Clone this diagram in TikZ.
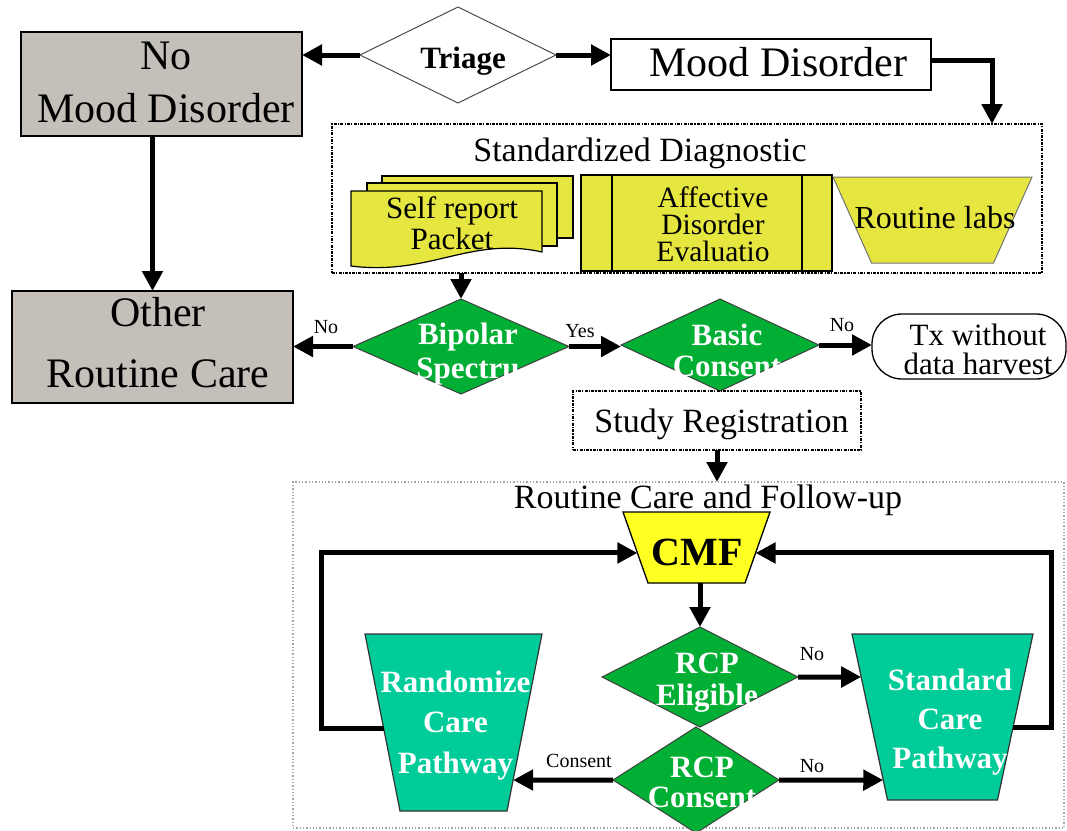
\documentclass[tikz,border=0pt]{standalone}
\usepackage{fontspec}
\setmainfont{Liberation Serif}
\usetikzlibrary{shapes.geometric,arrows.meta,calc}
\definecolor{boxgray}{HTML}{C4C0B9}
\definecolor{diagyellow}{HTML}{E6E640}
\definecolor{cmfyellow}{HTML}{FFFF22}
\definecolor{dgreen}{HTML}{00AF33}
\definecolor{tealc}{HTML}{00CC99}
\newcommand\stk[1]{\vtop{\lineskiplimit=-100pt\lineskip=0pt\halign{\hfil##\hfil\cr#1\crcr}}}
\newcommand\fsz[2]{\fontsize{#1}{#2}\selectfont}
% trapezoid (wide at top) drawn over an invisible rectangle node: #1 style, #2 node, #3 inset
\newcommand\trapdraw[3]{\filldraw[#1] (#2.north west) -- (#2.north east) -- ([xshift=-#3pt]#2.south east) -- ([xshift=#3pt]#2.south west) -- cycle;}
\begin{document}
\begin{tikzpicture}[x=1pt,y=-1pt,
 sz/.style 2 args={minimum width=#1pt,minimum height=#2pt},
 shp/.style={inner sep=0pt,outer sep=0pt,line width=1.3pt,draw=black},
 gbox/.style={shp,rectangle,fill=boxgray},
 wbox/.style={shp,rectangle,fill=white},
 dash box/.style={shp,rectangle,line width=1.6pt,dash pattern=on 3pt off 1.2pt on 1.2pt off 1.2pt},
 gdiam/.style={shp,diamond,fill=dgreen,draw=black!75,line width=1pt},
 frame/.style={rectangle,inner sep=0pt,outer sep=0pt},
 sheet/.style={fill=diagyellow,draw=black,line width=1.2pt},
 arr/.style={line width=5pt,-{Triangle[length=20pt,width=20pt]}},
 lbl/.style={anchor=base,inner sep=0pt,outer sep=0pt},
 wtxt/.style={lbl,text=white,font=\bfseries\fsz{31}{#1}},
 small/.style={lbl,font=\fsz{20}{24}}
]
\useasboundingbox (0,0) rectangle (1067,830);

% ---------- shapes ----------
\node[gbox,sz={281}{104}] (nomood) at (161.5,84) {};
\node[shp,diamond,fill=white,draw=black!70,line width=1pt,sz={196}{96}] (triage) at (458,55) {};
\node[wbox,sz={320}{51}] (mood) at (771,64.5) {};
\node[dash box,sz={710}{149}] (diag) at (687,198.5) {};

% self report packet (multi-document)
\filldraw[sheet] (382,176) rectangle (573,238);
\filldraw[sheet] (367,183) rectangle (557,246);
\filldraw[sheet] (351,191) -- (542,191) -- (542,252) .. controls (470,236) and (430,276) .. (351,266) -- cycle;

\node[shp,rectangle,fill=diagyellow,sz={251}{96}] (aff) at (706.5,223) {};
\draw[line width=1.3pt] ([xshift=31pt]aff.north west) -- ([xshift=31pt]aff.south west);
\draw[line width=1.3pt] ([xshift=-30pt]aff.north east) -- ([xshift=-30pt]aff.south east);
\node[frame,sz={199}{86}] (labs) at (932.5,220) {};
\trapdraw{fill=diagyellow,draw=black!55,line width=1pt}{labs}{38.5}

\node[gbox,sz={281}{112}] (other) at (152.5,347) {};
\node[gdiam,sz={216}{95}] (bip) at (461,346.5) {};
\node[gdiam,sz={198}{92}] (basic) at (720,345) {};
\node[wbox,rounded corners=30pt,sz={194}{65}] (tx) at (969,346.5) {};
\node[dash box,sz={288}{59}] (study) at (717,420.5) {};

\node[shp,rectangle,draw=black!35,dotted,line width=1.3pt,sz={771}{346}] (rc) at (678.5,655) {};
\node[frame,sz={147}{71}] (cmf) at (696.5,547.5) {};
\trapdraw{fill=cmfyellow,draw=black,line width=1.3pt}{cmf}{25}
\node[gdiam,sz={196}{100}] (rcpe) at (700,677) {};
\node[gdiam,sz={166}{106}] (rcpc) at (696,780) {};
\node[frame,sz={177}{177}] (rand) at (453.5,722.5) {};
\trapdraw{fill=tealc,draw=black!80,line width=1.2pt}{rand}{35}
\node[frame,sz={181}{166}] (std) at (942.5,717) {};
\trapdraw{fill=tealc,draw=black!80,line width=1.2pt}{std}{35.5}

% points on the slanted sides
\coordinate (cmfL) at ($(cmf.north west)!0.577!([xshift=25pt]cmf.south west)$);
\coordinate (cmfR) at ($(cmf.north east)!0.577!([xshift=-25pt]cmf.south east)$);
\coordinate (randL) at ($(rand.north west)!0.531!([xshift=35pt]rand.south west)$);
\coordinate (randC) at ($(rand.north east)!0.825!([xshift=-35pt]rand.south east)$);
\coordinate (stdE) at ($(std.north west)!0.259!([xshift=35.5pt]std.south west)$);
\coordinate (stdC) at ($(std.north west)!0.880!([xshift=35.5pt]std.south west)$);
\coordinate (stdR) at ($(std.north east)!0.566!([xshift=-35.5pt]std.south east)$);

% ---------- connectors ----------
\draw[arr] (triage.west) -- (triage.west -| nomood.east);
\draw[arr] (triage.east) -- (triage.east -| mood.west);
\draw[arr] ([yshift=4pt]mood.east) -| ($(diag.north east)+(-50,0)$);
\draw[arr] (other.north |- nomood.south) -- (other.north);
\draw[arr] (bip.north |- diag.south) -- (bip.north);
\draw[arr] (bip.west) -- (bip.west -| other.east);
\draw[arr] (bip.east) -- (bip.east -| basic.west);
\draw[arr] (basic.east) -- (basic.east -| tx.west);
\draw[arr] (study.south) -- (study.south |- rc.north);
\draw[arr] (randL) -- ++(-61.6,0) |- (cmfL);
\draw[arr] (stdR) -- ++(39,0) |- (cmfR);
\draw[arr] (rcpe.north |- cmf.south) -- (rcpe.north);
\draw[arr] (rcpe.east) -- (stdE);
\draw[arr] (rcpc.east) -- (stdC);
\draw[arr] (rcpc.west) -- (randC);

% ---------- texts ----------
\node[lbl,font=\fsz{42}{53}] (tnomood) at (166,69) {\stk{No\cr Mood Disorder}};
\node[lbl,font=\bfseries\fsz{31}{36}] (ttriage) at (463,68) {Triage};
\node[lbl,font=\fsz{42}{50}] (tmood) at (778.5,76) {Mood Disorder};
\node[lbl,font=\fsz{34}{40}] (tdiag) at (640,161) {Standardized Diagnostic};
\node[lbl,font=\fsz{31}{31}] (tpacket) at (452,218) {\stk{Self report\cr Packet}};
\node[lbl,font=\fsz{29.5}{27}] (taff) at (713,207) {\stk{Affective\cr Disorder\cr Evaluatio}};
\node[lbl,font=\fsz{32}{38}] (tlabs) at (935,228) {Routine labs};
\node[lbl,font=\fsz{42}{61}] (tother) at (158,326) {\stk{Other\cr Routine Care}};
\node[wtxt=34] (tbip) at (468,344) {\stk{Bipolar\cr Spectru}};
\node[small] (lno1) at (326,333) {No};
\node[small] (lyes) at (580,337) {Yes};
\node[wtxt=31] (tbasic) at (727,345) {\stk{Basic\cr Consent}};
\node[small] (lno2) at (842,331) {No};
\node[lbl,font=\fsz{31}{29}] (ttx) at (978,345) {\stk{Tx without\cr data harvest}};
\node[lbl,font=\fsz{34}{40}] (tstudy) at (721.5,432) {Study Registration};
\node[lbl,font=\fsz{34}{40}] (trc) at (708,508) {Routine Care and Follow-up};
\node[lbl,font=\bfseries\fsz{40}{48}] (tcmf) at (697.5,565) {CMF};
\node[wtxt=32] (trcpe) at (707,673) {\stk{RCP\cr Eligible}};
\node[wtxt=30] (trcpc) at (702,777) {\stk{RCP\cr Consent}};
\node[small] (lno3) at (812,660) {No};
\node[small] (lno4) at (812,772) {No};
\node[small] (lcons) at (579,767) {Consent};
\node[wtxt=40.5] (trand) at (455.5,692) {\stk{Randomize\cr Care\cr Pathway}};
\node[wtxt=39] (tstd) at (950,690) {\stk{Standard\cr Care\cr Pathway}};
\end{tikzpicture}
\end{document}
